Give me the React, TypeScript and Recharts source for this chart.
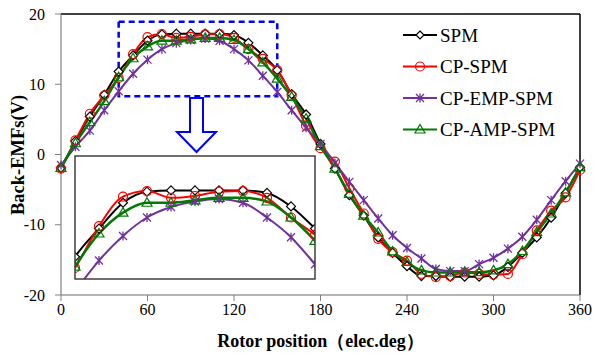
import React from 'react';
import {
   LineChart,
   Line,
   XAxis,
   YAxis,
   ReferenceLine,
   ReferenceArea,
   Label,
} from 'recharts';

const angles = [
   0, 10, 20, 30, 40, 50, 60, 70, 80, 90, 100, 110, 120, 130, 140, 150, 160, 170,
   180, 190, 200, 210, 220, 230, 240, 250, 260, 270, 280, 290, 300, 310, 320,
   330, 340, 350, 360,
];

const spm = [
   -1.9, 1.9, 5.4, 8.5, 11.8, 14.1, 16.2, 17.1, 17.2, 17.2, 17.2, 17.2, 17.0,
   15.9, 14.1, 12.0, 8.6, 5.7, 1.5, -2.0, -5.8, -8.7, -11.8, -14.0, -15.9,
   -17.3, -17.3, -17.4, -17.4, -17.4, -17.2, -16.0, -14.0, -11.8, -9.0, -5.5,
   -1.8,
];

const cpSpm = [
   -2.0, 2.0, 5.8, 8.4, 10.9, 14.3, 16.7, 17.15, 16.6, 16.75, 17.1, 17.15, 16.6,
   15.0, 13.6, 12.0, 8.4, 4.1, 0.9, -1.0, -4.8, -8.4, -12.0, -13.9, -15.1,
   -17.0, -17.45, -17.3, -16.8, -17.0, -17.1, -17.0, -14.2, -10.8, -8.0, -6.1,
   -2.2,
];

const cpEmpSpm = [
   -1.5, 1.1, 3.4, 6.3, 9.0, 11.5, 13.5, 15.0, 15.85, 16.3, 16.5, 16.2, 15.0,
   13.4, 11.2, 8.9, 6.3, 3.8, 1.5, -1.2, -3.9, -6.5, -9.1, -11.5, -13.3, -14.8,
   -16.3, -16.6, -16.6, -15.6, -14.7, -13.4, -11.7, -9.3, -6.5, -3.8, -1.3,
];

const cpAmpSpm = [
   -1.9, 1.6, 4.6, 7.6, 11.0, 13.7, 15.4, 16.2, 16.2, 16.4, 16.6, 16.6, 16.3,
   15.0, 13.1, 10.8, 8.2, 5.1, 1.2, -2.0, -5.6, -8.7, -11.1, -13.8, -15.3,
   -16.5, -16.8, -16.8, -16.75, -16.75, -16.5, -15.6, -13.75, -11.05, -8.4,
   -5.4, -1.8,
];

const seriesNames = ['SPM', 'CP-SPM', 'CP-EMP-SPM', 'CP-AMP-SPM'];
const xTicks = [0, 60, 120, 180, 240, 300, 360];
const yTicks = [-20, -10, 0, 10, 20];

// zoom window shown in the inset (dashed box on the main chart)
const zoomX = [40, 150];
const zoomY = [8.3, 18.9];
const insetX = [40, 140];
const insetY = [10, 20];

const chartData = angles.map((a, i) => ({
   angle: a,
   spm: spm[i],
   cpSpm: cpSpm[i],
   cpEmpSpm: cpEmpSpm[i],
   cpAmpSpm: cpAmpSpm[i],
}));

const FONT = '"Liberation Serif", "Times New Roman", serif';
const GREEN = '#007a00';
const PURPLE = '#7030a0';

const diamond = (cx: number, cy: number, s = 4.5, key?: any) => (
   <polygon
      key={key}
      points={`${cx},${cy - s} ${cx + s},${cy} ${cx},${cy + s} ${cx - s},${cy}`}
      fill="#fff"
      stroke="#000"
      strokeWidth={1.2}
   />
);
const circle = (cx: number, cy: number, key?: any) => (
   <circle key={key} cx={cx} cy={cy} r={4.5} fill="none" stroke="#ff0000" strokeWidth={1.2} />
);
const star = (cx: number, cy: number, key?: any) => (
   <path
      key={key}
      d={`M${cx - 4},${cy - 4}L${cx + 4},${cy + 4}M${cx + 4},${cy - 4}L${cx - 4},${cy + 4}M${cx},${cy - 4.5}L${cx},${cy + 4.5}`}
      stroke={PURPLE}
      strokeWidth={1.3}
      fill="none"
   />
);
const triangle = (cx: number, cy: number, key?: any) => (
   <polygon
      key={key}
      points={`${cx},${cy - 5} ${cx + 5},${cy + 3.5} ${cx - 5},${cy + 3.5}`}
      fill="none"
      stroke={GREEN}
      strokeWidth={1.2}
   />
);

const dotFn = (shape: (cx: number, cy: number, key?: any) => any) => (p: any) => {
   if (p.cx == null || p.cy == null) return <g key={`n-${p.index}`} />;
   return shape(p.cx, p.cy, `d-${p.index}`);
};

const markers = [
   (cx: number, cy: number) => diamond(cx, cy, 4),
   circle,
   star,
   triangle,
];
const colors = ['#000', '#ff0000', PURPLE, GREEN];

const renderLines = () => [
   <Line key="a" type="monotone" dataKey="spm" stroke="#000" strokeWidth={2} dot={dotFn((x, y, k) => diamond(x, y, 4.5, k))} isAnimationActive={false} />,
   <Line key="b" type="monotone" dataKey="cpSpm" stroke="#ff0000" strokeWidth={2} dot={dotFn(circle)} isAnimationActive={false} />,
   <Line key="c" type="monotone" dataKey="cpEmpSpm" stroke={PURPLE} strokeWidth={2} dot={dotFn(star)} isAnimationActive={false} />,
   <Line key="d" type="monotone" dataKey="cpAmpSpm" stroke={GREEN} strokeWidth={2.5} dot={dotFn(triangle)} isAnimationActive={false} />,
];

const App = () => {
   return (
      <div style={{ position: 'absolute', left: 0, top: 0, width: 595, height: 356, background: '#fff', fontFamily: FONT }}>
         <LineChart width={595} height={356} data={chartData} margin={{ top: 14, right: 15, left: 0, bottom: 0 }}>
            <XAxis
               dataKey="angle"
               type="number"
               domain={[0, 360]}
               ticks={xTicks}
               interval={0}
               height={61}
               tickSize={6}
               tickMargin={3}
               tick={{ fontSize: 16, fill: '#000', fontFamily: FONT }}
               axisLine={{ stroke: '#6a6a6a', strokeWidth: 1.2 }}
               tickLine={{ stroke: '#808080' }}
            >
               <Label
                  content={() => (
                     <text x={320.5} y={347} textAnchor="middle" fontFamily={FONT} fontWeight="bold" fontSize={18} fill="#000">
                        Rotor position（elec.deg）
                     </text>
                  )}
               />
            </XAxis>
            <YAxis
               type="number"
               domain={[-20, 20]}
               ticks={yTicks}
               interval={0}
               width={61}
               tickSize={6}
               tickMargin={10}
               tick={{ fontSize: 16, fill: '#000', fontFamily: FONT }}
               axisLine={{ stroke: '#808080', strokeWidth: 1.2 }}
               tickLine={{ stroke: '#808080' }}
            >
               <Label
                  content={() => (
                     <text x={24} y={155} transform="rotate(-90, 24, 155)" textAnchor="middle" fontFamily={FONT} fontWeight="bold" fontSize={18.5} fill="#000">
                        Back-EMFs(V)
                     </text>
                  )}
               />
            </YAxis>
            <ReferenceLine y={20} stroke="#000" strokeWidth={1.5} />
            <ReferenceLine x={360} stroke="#000" strokeWidth={1.5} />
            {renderLines()}
            <ReferenceArea
               x1={zoomX[0]}
               x2={zoomX[1]}
               y1={zoomY[0]}
               y2={zoomY[1]}
               fill="none"
               fillOpacity={0}
               stroke="#0000ff"
               strokeWidth={2.5}
               strokeDasharray="6 4"
            />
         </LineChart>

         <div style={{ position: 'absolute', left: 75, top: 156, width: 240, height: 123, background: '#fff' }}>
            <LineChart width={240} height={123} data={chartData} margin={{ top: 0, right: 0, left: 0, bottom: 0 }}>
               <XAxis dataKey="angle" type="number" domain={insetX} allowDataOverflow hide />
               <YAxis type="number" domain={insetY} allowDataOverflow hide />
               {renderLines()}
            </LineChart>
         </div>

         <svg width={595} height={356} style={{ position: 'absolute', left: 0, top: 0, pointerEvents: 'none' }}>
            <rect x={75} y={156} width={240} height={123} fill="none" stroke="#404040" strokeWidth={1.5} />
            <path
               d="M190,98 L203,98 L203,132 L216,132 L196.5,152 L177,132 L190,132 Z"
               fill="#fff"
               stroke="#0000ff"
               strokeWidth={2}
            />
            {seriesNames.map((name, i) => {
               const y = 35 + i * 31.5;
               return (
                  <g key={name}>
                     <line x1={403} x2={437} y1={y} y2={y} stroke={colors[i]} strokeWidth={2} />
                     {markers[i](420, y)}
                     <text x={440} y={y + 6.5} fontFamily={FONT} fontSize={19} fill="#000">
                        {name}
                     </text>
                  </g>
               );
            })}
         </svg>
      </div>
   );
};

export default App;
